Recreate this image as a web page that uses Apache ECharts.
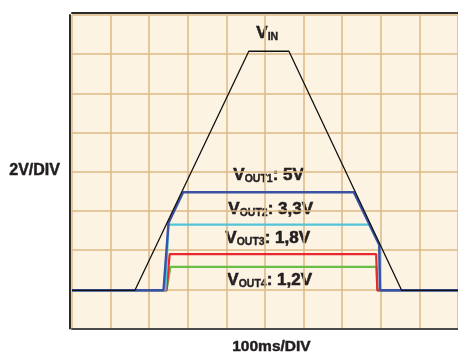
<!DOCTYPE html>
<html><head><meta charset="utf-8">
<script src="https://cdn.jsdelivr.net/npm/echarts@6/dist/echarts.min.js"></script>
<style>html,body{margin:0;padding:0;background:#fff}#c{width:458px;height:353px}</style>
</head><body><div id="c"></div>
<script>
// time in ms (100 ms/div), voltage in V (2 V/div)
const vinT = [0, 163, 458, 562, 854, 1000];
const vinV = [0, 0, 12.2, 12.2, 0, 0];
const out1T = [0, 237, 250, 288, 730, 796, 798, 1000];
const out1V = [0, 0, 3.44, 5.0, 5.0, 2.32, 0, 0];
const out2T = [0, 242, 250, 770, 796, 798, 1000];
const out2V = [0, 0, 3.35, 3.35, 2.32, 0, 0];
const out3T = [0, 245, 253, 788, 791, 1000];
const out3V = [0, 0, 1.85, 1.85, 0, 0];
const out4T = [0, 245, 255, 789, 791, 1000];
const out4V = [0, 0, 1.2, 1.2, 0, 0];
const xLabel = '100ms/DIV';
const yLabel = '2V/DIV';

const pair = (t, v) => t.map((x, i) => [x, v[i]]);
const F = "'Liberation Sans',Arial,sans-serif";
const TC = '#231f20';
const lab = (main, sub, rest) => ({
  type: 'text',
  style: {
    text: '{a|' + main + '}{b|' + sub + '}{a|' + rest + '}',
    rich: {
      a: {font: 'bold 17px ' + F, fill: TC, stroke: TC, lineWidth: 0.6, verticalAlign: 'bottom'},
      b: {font: 'bold 10.5px ' + F, fill: TC, stroke: TC, lineWidth: 0.4, verticalAlign: 'bottom'}
    }
  }
});
const chart = echarts.init(document.getElementById('c'));
const line = (name, data, color, w) => ({
  type: 'line', name, data, showSymbol: false, symbol: 'none',
  xAxisIndex: 0, yAxisIndex: 1, animation: false,
  lineStyle: {color, width: w}
});
const lbls = [
  Object.assign(lab('V', 'IN', ''), {left: 256, top: 25}),
  Object.assign(lab('V', 'OUT1', ': 5V'), {left: 233, top: 167}),
  Object.assign(lab('V', 'OUT2', ': 3,3V'), {left: 228, top: 201}),
  Object.assign(lab('V', 'OUT3', ': 1,8V'), {left: 225, top: 230}),
  Object.assign(lab('V', 'OUT4', ': 1,2V'), {left: 227, top: 272}),
  {type: 'text', left: 9, top: 162, style: {text: yLabel, font: 'bold 16px ' + F, fill: TC, stroke: TC, lineWidth: 0.5}},
  {type: 'text', left: 232, top: 338, style: {text: xLabel, font: 'bold 15.5px ' + F, fill: TC, stroke: TC, lineWidth: 0.5}}
];
chart.setOption({
  animation: false,
  backgroundColor: '#ffffff',
  grid: {left: 72, top: 15, width: 392, height: 313.5, show: true, backgroundColor: '#fcf3e2', borderWidth: 0},
  xAxis: [
    {type: 'value', min: 0, max: 1000, interval: 100, position: 'bottom',
     axisLine: {show: true, onZero: false, lineStyle: {color: '#4a4a4a', width: 2}}, axisTick: {show: false}, axisLabel: {show: false},
     splitLine: {show: true, lineStyle: {color: '#dcb886', width: 1.5}}},
    {type: 'value', min: 0, max: 1000, position: 'top', offset: 2.5,
     axisLine: {show: true, onZero: false, lineStyle: {color: '#2a2a2a', width: 2}}, axisTick: {show: false}, axisLabel: {show: false}, splitLine: {show: false}}
  ],
  yAxis: [
    {type: 'value', min: 0, max: 8, interval: 1, offset: 2.5,
     axisLine: {show: true, onZero: false, lineStyle: {color: '#2a2a2a', width: 2}}, axisTick: {show: false}, axisLabel: {show: false},
     splitLine: {show: true, lineStyle: {color: '#dcb886', width: 1.5}}},
    {type: 'value', min: -1.95, max: 14.05, show: false, splitLine: {show: false}}
  ],
  series: [
    line('VOUT4', pair(out4T, out4V), '#6cbd45', 2.2),
    line('VOUT3', pair(out3T, out3V), '#e8282e', 2.2),
    line('VOUT2', pair(out2T, out2V), '#52c4d8', 2.2),
    line('VOUT1', pair(out1T, out1V), '#3a52a6', 2.4),
    line('VIN', pair(vinT, vinV), '#111111', 1.3)
  ],
  graphic: lbls
});
</script></body></html>
